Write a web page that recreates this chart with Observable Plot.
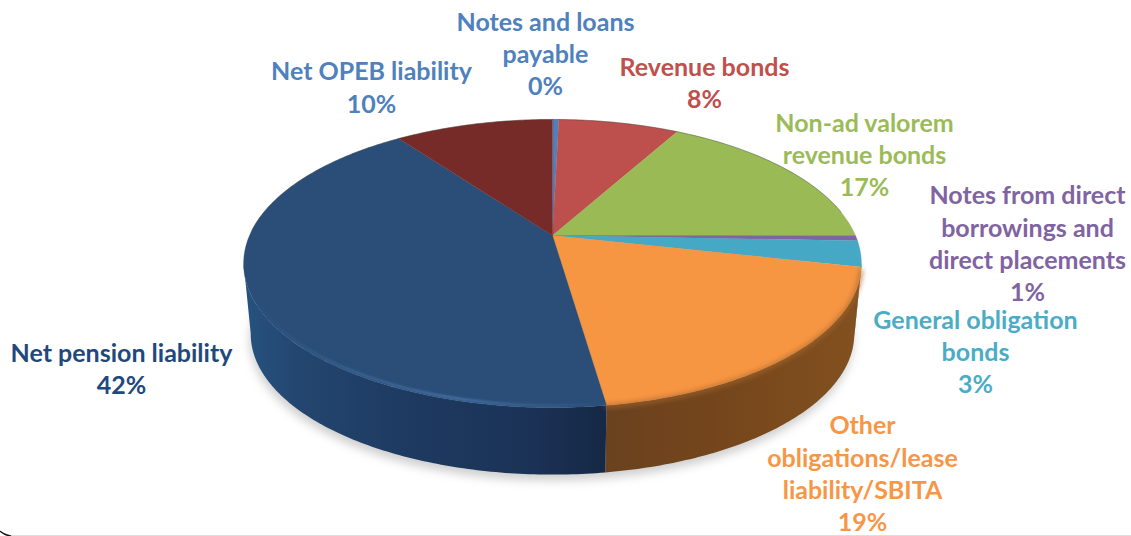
<!DOCTYPE html>
<html>
<head>
<meta charset="utf-8">
<script src="https://cdn.jsdelivr.net/npm/d3@7"></script>
<script src="https://cdn.jsdelivr.net/npm/@observablehq/plot@0.6"></script>
<style>
  html, body { margin: 0; padding: 0; background: #fff; overflow: hidden; }
  svg { display: block; }
  .blur-wide { filter: blur(5px); }
  .blur-mid { filter: blur(2.4px); }
  .blur-fine { filter: blur(0.8px); }
</style>
</head>
<body>
<div id="chart"></div>
<script>
// Long-term liabilities by type, percent of total, clockwise from twelve o'clock.
const names = [
  "Notes and loans\npayable",
  "Revenue bonds",
  "Non-ad valorem\nrevenue bonds",
  "Notes from direct\nborrowings and\ndirect placements",
  "General obligation\nbonds",
  "Other\nobligations/lease\nliability/SBITA",
  "Net pension liability",
  "Net OPEB liability"
];
const shares = [0.4, 7.6, 17.0, 0.6, 2.9, 19.2, 42.3, 10.0];
const faceColors = ["#4f81bd", "#bd4f4c", "#9aba56", "#8064a2", "#45a8c4", "#f69542", "#2a4e78", "#772b28"];
const labelColors = ["#4f81bd", "#c0504d", "#9bbb59", "#8064a2", "#4bacc6", "#f79646", "#1f497d", "#4f81bd"];

// Label centres, in the same order as the names above.
const labelX = [545, 704, 864, 1027, 975, 862, 121, 371];
const labelY = [52, 81, 153, 242, 350, 472, 367, 85.5];

// Perspective disc: the hub sits above the middle of the ellipse.
const disc = {cx: 552, a: 303, b: 138.6, k: 0.1945};
const topFace = {y0: 235, s: 1};
const bottomFace = {y0: 306, s: 0.977};

function rim(deg, face) {
  const t = deg * Math.PI / 180;
  const X = Math.sin(t), Y = -Math.cos(t), w = 1 - disc.k * Y;
  return {x: disc.cx + face.s * disc.a * X / w, y: face.y0 + face.s * disc.b * Y / w};
}
function arc(from, to, face) {
  const n = Math.max(2, Math.ceil(Math.abs(to - from) / 0.75));
  return d3.range(n + 1).map((i) => rim(from + (to - from) * i / n, face));
}

// Cumulative shares turned into sweep angles.
const total = d3.sum(shares);
let running = 0;
const slices = shares.map((share, i) => {
  const start = running / total * 360;
  running += share;
  return {i, share, start, end: running / total * 360};
});

// The wall is visible between the two tangent points of the ellipse.
const sideFrom = 101, sideTo = 259;
const topPolys = slices.map((d) => [{x: disc.cx, y: topFace.y0}, ...arc(d.start, d.end, topFace)]);
const wallPoly = (d) => {
  const a = Math.max(d.start, sideFrom), b = Math.min(d.end, sideTo);
  return a < b ? [...arc(a, b, topFace), ...arc(b, a, bottomFace)] : null;
};

const other = slices[5], pension = slices[6];
const closed = {x: "x", y: "y", curve: "linear-closed"};
const open = {x: "x", y: "y", curve: "linear", fill: "none"};

const gradients = () => {
  const defs = d3.create("svg:defs");
  const add = (id, stops) => {
    const g = defs.append("linearGradient").attr("id", id);
    stops.forEach(([o, c, a = 1]) => g.append("stop").attr("offset", o).attr("stop-color", c).attr("stop-opacity", a));
  };
  add("wall-pension", [[0, "#27527f"], [0.15, "#234670"], [0.45, "#1e3a61"], [0.8, "#1b3256"], [1, "#152845"]]);
  add("wall-other", [[0, "#6a421f"], [0.4, "#74451c"], [1, "#83511f"]]);
  add("bevel", [[0, "#3b6597", 0], [0.3, "#44709f", 0.8], [0.6, "#4f7db5", 0.95], [0.85, "#44709f", 0.5], [1, "#44709f", 0]]);
  return defs.node();
};

const plot = Plot.plot({
  width: 1131,
  height: 536,
  margin: 0,
  x: {domain: [0, 1131], range: [0, 1131], axis: null},
  y: {domain: [0, 536], range: [0, 536], axis: null},
  style: {fontFamily: "Lato, sans-serif", background: "#fff"},
  marks: [
    gradients,
    // Soft ground shadow under the disc
    Plot.line(arc(0, 360, bottomFace).map((p) => ({x: p.x - 1, y: p.y + 6})), {
      ...closed, fill: "#a8a8a8", fillOpacity: 0.55, stroke: "none", className: "blur-wide"
    }),
    // Side walls
    ...slices.filter(wallPoly).map((d) => Plot.line(wallPoly(d), {
      ...closed,
      fill: d.i === 6 ? "url(#wall-pension)" : d.i === 5 ? "url(#wall-other)" : d3.color(faceColors[d.i]).darker(1.4).formatHex(),
      stroke: "none"
    })),
    // Top faces
    ...topPolys.map((poly, i) => Plot.line(poly, {...closed, fill: faceColors[i], stroke: faceColors[i], strokeWidth: 0.3})),
    // Upper rim edge
    Plot.line(arc(272, 440, topFace), {...open, stroke: "#3a3a3a", strokeOpacity: 0.5, strokeWidth: 0.8}),
    // Bevel where the top meets the wall
    Plot.line(arc(other.start + 1, other.end, {y0: topFace.y0 + 1, s: 1}), {
      ...open, stroke: "#a9682c", strokeWidth: 3, className: "blur-mid"
    }),
    Plot.line(arc(pension.start, sideTo, {y0: topFace.y0 - 1, s: 0.994}), {
      ...open, stroke: "url(#bevel)", strokeWidth: 2, className: "blur-fine"
    }),
    // Slice labels
    Plot.text(slices, {
      x: (d) => labelX[d.i],
      y: (d) => labelY[d.i],
      text: (d) => `${names[d.i]}\n${d3.format(".0f")(d.share)}%`,
      fill: (d) => labelColors[d.i],
      fontSize: 25,
      fontWeight: "bold",
      lineHeight: 1.295,
      textAnchor: "middle",
      lineAnchor: "middle"
    }),
    // Corner of the surrounding frame
    Plot.line([{x: 10, y: 535.5}, {x: 1131, y: 535.5}], {...open, stroke: "#bdbdbd", strokeWidth: 1}),
    Plot.line([{x: 0, y: 531}, {x: 4, y: 534}, {x: 10, y: 535.5}], {...open, curve: "basis", stroke: "#111", strokeWidth: 1.5})
  ]
});
document.getElementById("chart").append(plot);
</script>
</body>
</html>
